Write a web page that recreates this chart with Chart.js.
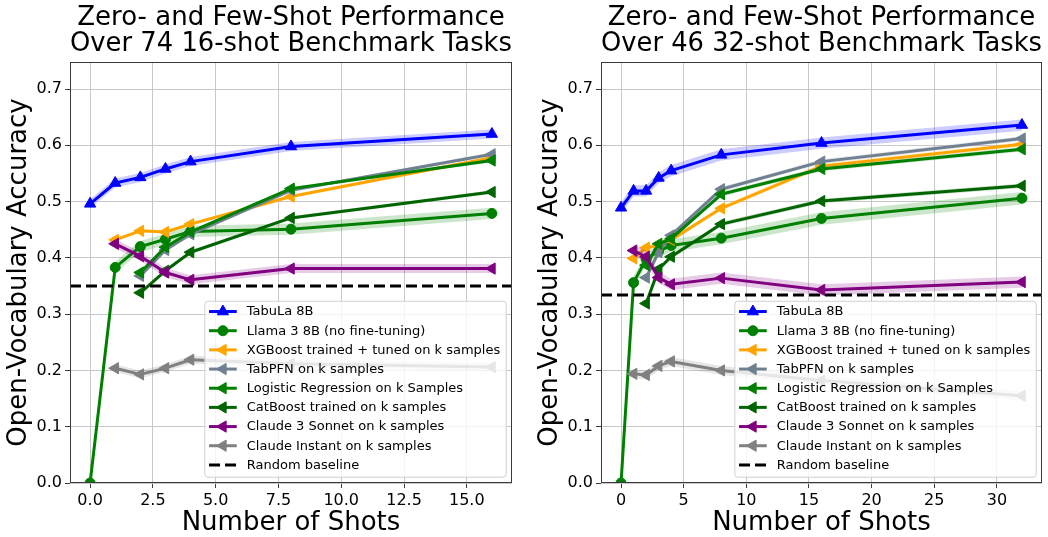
<!DOCTYPE html>
<html><head><meta charset="utf-8">
<script src="https://cdn.jsdelivr.net/npm/chart.js@4.4.1/dist/chart.umd.min.js"></script>
<style>
html,body{margin:0;padding:0;background:#fff;}
#wrap{position:relative;width:1048px;height:537px;overflow:hidden;}
canvas{position:absolute;top:0;}
</style></head><body>
<div id="wrap">
<canvas id="leftChart" width="524" height="537" style="left:0"></canvas>
<canvas id="rightChart" width="524" height="537" style="left:524px"></canvas>
</div>
<script>
// ---------------- DATA ----------------
const seriesNames = [
  'TabuLa 8B',
  'Llama 3 8B (no fine-tuning)',
  'XGBoost trained + tuned on k samples',
  'TabPFN on k samples',
  'Logistic Regression on k Samples',
  'CatBoost trained on k samples',
  'Claude 3 Sonnet on k samples',
  'Claude Instant on k samples'
];
const baselineName = 'Random baseline';

const leftTitle = ['Zero- and Few-Shot Performance', 'Over 74 16-shot Benchmark Tasks'];
const rightTitle = ['Zero- and Few-Shot Performance', 'Over 46 32-shot Benchmark Tasks'];
const xAxisTitle = 'Number of Shots';
const yAxisTitle = 'Open-Vocabulary Accuracy';

const leftShots = [0, 1, 2, 3, 4, 8, 16];
const leftTabula  = [0.496, 0.533, 0.543, 0.558, 0.571, 0.598, 0.620];
const leftLlama   = [0.000, 0.383, 0.420, 0.433, 0.447, 0.451, 0.479];
const leftXgb     = [null, 0.432, 0.448, 0.446, 0.460, 0.509, 0.578];
const leftTabpfn  = [null, null, 0.368, 0.414, 0.442, 0.520, 0.584];
const leftLogreg  = [null, null, 0.374, 0.419, 0.446, 0.523, 0.573];
const leftCatboost= [null, null, 0.338, 0.377, 0.410, 0.471, 0.517];
const leftSonnet  = [null, 0.425, 0.403, 0.374, 0.361, 0.381, 0.381];
const leftInstant = [null, 0.204, 0.193, 0.204, 0.219, 0.212, 0.206];
const leftBands   = [0.008, 0.010, 0.003, 0.003, 0.003, 0.003, 0.008, 0.007];
const leftBaseline = 0.35;

const rightShots = [0, 1, 2, 3, 4, 8, 16, 32];
const rightTabula  = [0.489, 0.519, 0.519, 0.542, 0.555, 0.583, 0.604, 0.636];
const rightLlama   = [0.000, 0.356, 0.398, 0.412, 0.422, 0.435, 0.470, 0.506];
const rightXgb     = [null, 0.399, 0.418, 0.422, 0.432, 0.488, 0.563, 0.602];
const rightTabpfn  = [null, null, 0.365, 0.410, 0.440, 0.522, 0.571, 0.612];
const rightLogreg  = [null, null, 0.387, 0.425, 0.434, 0.513, 0.558, 0.593];
const rightCatboost= [null, null, 0.319, 0.380, 0.402, 0.460, 0.501, 0.528];
const rightSonnet  = [null, 0.413, 0.402, 0.365, 0.353, 0.364, 0.343, 0.357];
const rightInstant = [null, 0.194, 0.192, 0.208, 0.216, 0.200, 0.182, 0.155];
const rightBands   = [0.010, 0.011, 0.004, 0.004, 0.004, 0.004, 0.010, 0.008];
const rightBaseline = 0.334;

const leftXTicks = [0, 2.5, 5, 7.5, 10, 12.5, 15];
const leftXTickLabels = ['0.0', '2.5', '5.0', '7.5', '10.0', '12.5', '15.0'];
const rightXTicks = [0, 5, 10, 15, 20, 25, 30];
const rightXTickLabels = ['0', '5', '10', '15', '20', '25', '30'];
const yTicks = [0, 0.1, 0.2, 0.3, 0.4, 0.5, 0.6, 0.7];
const yTickLabels = ['0.0', '0.1', '0.2', '0.3', '0.4', '0.5', '0.6', '0.7'];

// ---------------- STYLE ----------------
const FONT = "'DejaVu Sans'";
Chart.defaults.font.family = FONT;
const styles = [
  {color: '#0000ff', band: 'rgba(0,0,255,0.2)', marker: 'triangle', rot: 0, r: 6.5},
  {color: '#008000', band: 'rgba(0,128,0,0.2)', marker: 'circle', rot: 0, r: 5},
  {color: '#ffa500', band: 'rgba(255,165,0,0.2)', marker: 'triangle', rot: -90, r: 6.5},
  {color: '#708090', band: 'rgba(112,128,144,0.2)', marker: 'triangle', rot: -90, r: 6.5},
  {color: '#008000', band: 'rgba(0,128,0,0.2)', marker: 'triangle', rot: -90, r: 6.5},
  {color: '#006400', band: 'rgba(0,100,0,0.2)', marker: 'triangle', rot: -90, r: 6.5},
  {color: '#800080', band: 'rgba(128,0,128,0.2)', marker: 'triangle', rot: -90, r: 6.5},
  {color: '#808080', band: 'rgba(128,128,128,0.2)', marker: 'triangle', rot: -90, r: 6.5}
];

function buildDatasets(shots, series, bands, baseline, xMin, xMax) {
  const ds = [];
  let order = 1000;
  series.forEach((vals, i) => {
    const st = styles[i];
    const pts = [], up = [], lo = [];
    shots.forEach((s, j) => {
      if (vals[j] !== null) {
        pts.push({x: s, y: vals[j]});
        up.push({x: s, y: vals[j] + bands[i]});
        lo.push({x: s, y: vals[j] - bands[i]});
      }
    });
    ds.push({label: 'band', data: up, borderWidth: 0, pointRadius: 0, fill: false, order: order--, clip: 0, borderColor: 'rgba(0,0,0,0)'});
    ds.push({label: 'band', data: lo, borderWidth: 0, pointRadius: 0, fill: '-1', backgroundColor: st.band, order: order--, clip: 0, borderColor: 'rgba(0,0,0,0)'});
    ds.push({
      label: seriesNames[i], legendItem: true, data: pts,
      borderColor: st.color, backgroundColor: st.color,
      pointBackgroundColor: st.color, pointBorderColor: st.color,
      borderWidth: 3, borderJoinStyle: 'round', borderCapStyle: 'butt',
      pointStyle: st.marker, pointRotation: st.rot, pointRadius: st.r, pointBorderWidth: 1,
      fill: false, order: order--, clip: 0
    });
  });
  ds.push({
    label: baselineName, legendItem: true, dashed: true,
    data: [{x: xMin, y: baseline}, {x: xMax, y: baseline}],
    borderColor: '#000', borderWidth: 3, borderDash: [11, 5], pointRadius: 0, fill: false,
    order: order--, clip: 0
  });
  return ds;
}

const framePlugin = {
  id: 'mplFrameLegend',
  afterDatasetsDraw(chart) {
    const ctx = chart.ctx, ca = chart.chartArea;
    ctx.save();
    ctx.strokeStyle = '#3a3a3a';
    ctx.lineWidth = 1;
    ctx.strokeRect(Math.round(ca.left) + 0.5, Math.round(ca.top) + 0.5, Math.round(ca.right - ca.left) - 1, Math.round(ca.bottom - ca.top) - 1);
    const items = chart.data.datasets.filter(d => d.legendItem);
    ctx.font = '13px ' + FONT;
    const maxW = Math.max(...items.map(d => ctx.measureText(d.label).width));
    const rowH = 19.17;
    const w = 42.4 + maxW + 5.5;
    const h = 10.8 + (items.length - 1) * rowH + 11.8;
    const x0 = ca.right - 6.3 - w;
    const y0 = ca.bottom - 6.3 - h;
    ctx.beginPath();
    if (ctx.roundRect) ctx.roundRect(x0 + 0.5, y0 + 0.5, w, h, 3); else ctx.rect(x0 + 0.5, y0 + 0.5, w, h);
    ctx.fillStyle = 'rgba(255,255,255,0.8)';
    ctx.fill();
    ctx.strokeStyle = '#d0d0d0';
    ctx.lineWidth = 1;
    ctx.stroke();
    items.forEach((d, k) => {
      const cy = y0 + 10.8 + k * rowH;
      const lx0 = x0 + 4.7, lx1 = x0 + 32.4;
      ctx.save();
      ctx.strokeStyle = d.borderColor;
      ctx.lineWidth = 3;
      if (d.dashed) ctx.setLineDash([11, 5]);
      ctx.beginPath();
      ctx.moveTo(lx0, cy); ctx.lineTo(lx1, cy);
      ctx.stroke();
      ctx.restore();
      if (!d.dashed) {
        ctx.save();
        ctx.fillStyle = d.pointBackgroundColor;
        ctx.strokeStyle = d.pointBorderColor;
        ctx.lineWidth = 1;
        Chart.helpers.drawPoint(ctx, {pointStyle: d.pointStyle, rotation: d.pointRotation, radius: d.pointRadius, borderWidth: 1}, (lx0 + lx1) / 2, cy);
        ctx.restore();
      }
      ctx.fillStyle = '#000';
      ctx.textBaseline = 'middle';
      ctx.textAlign = 'left';
      ctx.font = '13px ' + FONT;
      ctx.fillText(d.label, x0 + 42.4, cy + 0.5);
    });
    ctx.restore();
  }
};

function makeChart(id, cfg) {
  const xTicks = cfg.xTicks, xLabels = cfg.xLabels;
  return new Chart(document.getElementById(id), {
    type: 'line',
    data: {datasets: buildDatasets(cfg.shots, cfg.series, cfg.bands, cfg.baseline, cfg.xMin, cfg.xMax)},
    options: {
      responsive: false, animation: false, events: [],
      layout: {padding: {top: 0, left: 0, right: cfg.padRight, bottom: 0}, autoPadding: false},
      plugins: {
        legend: {display: false}, tooltip: {enabled: false},
        title: {
          display: true, text: cfg.title, fullSize: false, color: '#000',
          font: {family: FONT, size: 26, weight: 'normal', lineHeight: '25.5px'},
          padding: {top: 5.75, bottom: 5.25}
        }
      },
      scales: {
        x: {
          type: 'linear', min: cfg.xMin, max: cfg.xMax,
          afterBuildTicks: s => { s.ticks = xTicks.map(v => ({value: v})); },
          afterFit: s => { s.height = 54; },
          ticks: {autoSkip: false, maxRotation: 0, minRotation: 0, color: '#000', padding: 3,
                  font: {family: FONT, size: 16}, callback: (v, i) => xLabels[i]},
          grid: {color: '#c8c8c8', lineWidth: 1, tickColor: '#3a3a3a', tickLength: 5, drawTicks: true},
          border: {display: false},
          title: {display: true, text: xAxisTitle, color: '#000', font: {family: FONT, size: 26, lineHeight: 1}, padding: {top: 0, bottom: 1}}
        },
        y: {
          type: 'linear', min: 0, max: 0.748,
          afterBuildTicks: s => { s.ticks = yTicks.map(v => ({value: v})); },
          afterFit: s => { s.width = cfg.axisLeft; },
          ticks: {autoSkip: false, color: '#000', padding: 3,
                  font: {family: FONT, size: 16}, callback: (v, i) => yTickLabels[i]},
          grid: {color: '#c8c8c8', lineWidth: 1, tickColor: '#3a3a3a', tickLength: 5, drawTicks: true},
          border: {display: false},
          title: {display: true, text: yAxisTitle, color: '#000', font: {family: FONT, size: 26, lineHeight: 1}, padding: {top: cfg.yTitlePad, bottom: 0}}
        }
      }
    },
    plugins: [framePlugin]
  });
}

makeChart('leftChart', {
  shots: leftShots,
  series: [leftTabula, leftLlama, leftXgb, leftTabpfn, leftLogreg, leftCatboost, leftSonnet, leftInstant],
  bands: leftBands, baseline: leftBaseline, xMin: -0.8, xMax: 16.8,
  xTicks: leftXTicks, xLabels: leftXTickLabels, title: leftTitle,
  padRight: 12, axisLeft: 70, yTitlePad: 6
});
makeChart('rightChart', {
  shots: rightShots,
  series: [rightTabula, rightLlama, rightXgb, rightTabpfn, rightLogreg, rightCatboost, rightSonnet, rightInstant],
  bands: rightBands, baseline: rightBaseline, xMin: -1.6, xMax: 33.6,
  xTicks: rightXTicks, xLabels: rightXTickLabels, title: rightTitle,
  padRight: 6, axisLeft: 77, yTitlePad: 13
});
</script>
</body></html>
